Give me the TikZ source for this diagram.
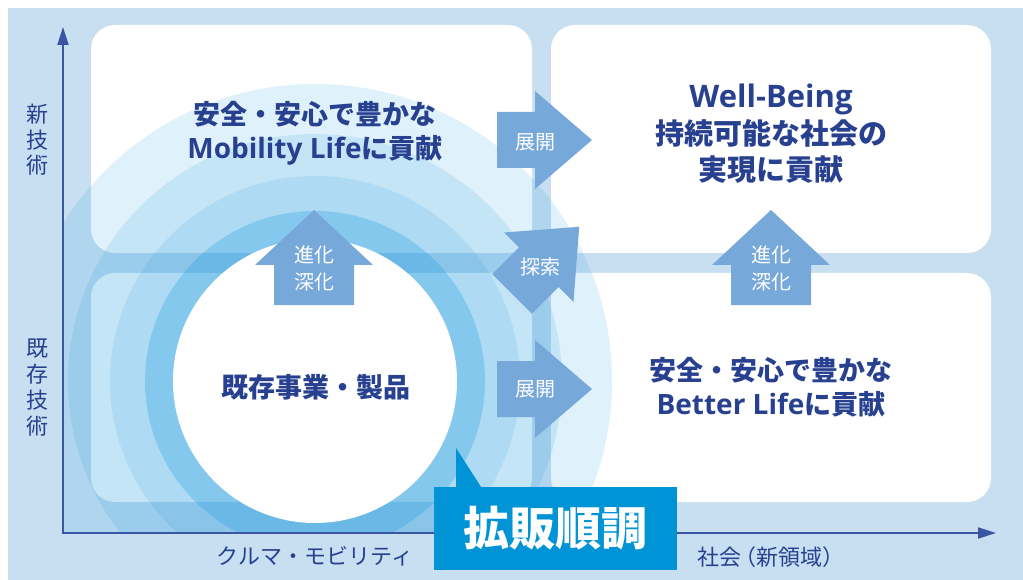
\documentclass[tikz,border=0pt]{standalone}
\usepackage{fontspec}
\newfontfamily\jp{Noto Sans CJK JP}
\newfontfamily\lat{Open Sans}
\usetikzlibrary{arrows.meta}
\definecolor{bg}{HTML}{C8DFF1}
\definecolor{ink}{HTML}{27408F}
\definecolor{axisc}{HTML}{3A55A4}
\definecolor{arr}{HTML}{76A8DA}
\definecolor{ringc}{HTML}{0F93DD}
\definecolor{tagc}{HTML}{0093D6}
\tikzset{
  box/.style={fill=white, draw=none, rounded corners=24pt, inner sep=0pt},
  title/.style={text=ink, align=center, font=\jp\bfseries\fontsize{27}{34}\selectfont},
  axlabel/.style={text=ink, align=center, font=\jp\fontsize{22}{25.5}\selectfont},
  arrlabel/.style={text=white, align=center, font=\jp\fontsize{20}{27}\selectfont},
  blockarrow/.style={fill=arr, draw=none},
  axisline/.style={draw=axisc, line width=2pt, {Triangle[length=18pt,width=11pt]}-{Triangle[length=18pt,width=11pt]}},
}
\begin{document}
\begin{tikzpicture}[x=1pt,y=-1pt]
\useasboundingbox (0,0) rectangle (1023,580);
\fill[white] (0,0) rectangle (1023,580);
\fill[bg] (8,8) rectangle (1023,580);
% quadrant boxes
\node[box, minimum width=441pt, minimum height=228pt] (tl) at (311.5,139) {};
\node[box, minimum width=440pt, minimum height=228pt] (tr) at (771,139) {};
\node[box, minimum width=441pt, minimum height=229pt] (bl) at (311.5,387.5) {};
\node[box, minimum width=440pt, minimum height=229pt] (br) at (771,387.5) {};
% rings
\begin{scope}
\clip (63,0) rectangle (1023,533);
\fill[ringc, opacity=.13] (315,381) circle (297pt);
\fill[ringc, opacity=.126] (315,381) circle (247pt);
\fill[ringc, opacity=.118] (315,381) circle (205pt);
\fill[ringc, opacity=.254] (315,381) circle (170pt);
\end{scope}
\node[circle, fill=white, minimum size=284pt, inner sep=0pt] (core) at (315,381) {};
% block arrows
\fill[blockarrow, shift={(497,140)}] (0,-28) -- (38,-28) -- (38,-49) -- (95,0) -- (38,49) -- (38,28) -- (0,28) -- cycle;
\fill[blockarrow, shift={(497,389)}] (0,-28) -- (38,-28) -- (38,-49) -- (95,0) -- (38,49) -- (38,28) -- (0,28) -- cycle;
\fill[blockarrow, shift={(512,294)}, rotate=45] (0,-28) -- (38,-28) -- (38,-49) -- (95,0) -- (38,49) -- (38,28) -- (0,28) -- cycle;
\fill[blockarrow] (274,305) -- (274,265) -- (255,265) -- (314,210) -- (373,265) -- (354,265) -- (354,305) -- cycle;
\fill[blockarrow] (731,305) -- (731,265) -- (712,265) -- (771,210) -- (830,265) -- (811,265) -- (811,305) -- cycle;
\node[arrlabel] (dev1) at (535,142) {展開};
\node[arrlabel] (dev2) at (535,389) {展開};
\node[arrlabel] (explore) at (540,267) {探索};
\node[arrlabel] (evo1) at (314,268.5) {進化\\深化};
\node[arrlabel] (evo2) at (771,268.5) {進化\\深化};
% titles
\node[title] (t1) at (315,133) {安全・安心で豊かな\\{\lat\bfseries\fontsize{28}{34}\selectfont Mobility Life}に貢献};
\node[title, font=\jp\bfseries\fontsize{29}{36.5}\selectfont] (t2) at (771,134) {{\lat\bfseries\fontsize{31}{36.5}\selectfont Well-Being}\\持続可能な社会の\\実現に貢献};
\node[title] (t3) at (771,387.5) {安全・安心で豊かな\\{\lat\bfseries\fontsize{28}{34}\selectfont Better Life}に貢献};
\node[title] (t4) at (316,387) {既存事業・製品};
% axes
\coordinate (O) at (63,533);
\coordinate (ytip) at (63,27);
\coordinate (xtip) at (996,533);
\draw[axisline] (ytip) -- (O) -- (xtip);
\node[axlabel] (ynew) at (37,140) {新\\技\\術};
\node[axlabel, font=\jp\fontsize{22}{26}\selectfont] (yold) at (37,387.5) {既\\存\\技\\術};
\node[axlabel] (xcar) at (315,556) {クルマ・モビリティ};
\node[axlabel] (xsoc) at (771,557) {社会\kern-.35em（新領域）};
% sales tag
\fill[tagc] (456,448) -- (456,490) -- (483,490) -- cycle;
\node[fill=tagc, minimum width=243pt, minimum height=83pt, inner sep=0pt, text=white, font=\jp\bfseries\fontsize{46}{50}\selectfont] (sales) at (555.5,528.5) {拡販順調};
\end{tikzpicture}
\end{document}
